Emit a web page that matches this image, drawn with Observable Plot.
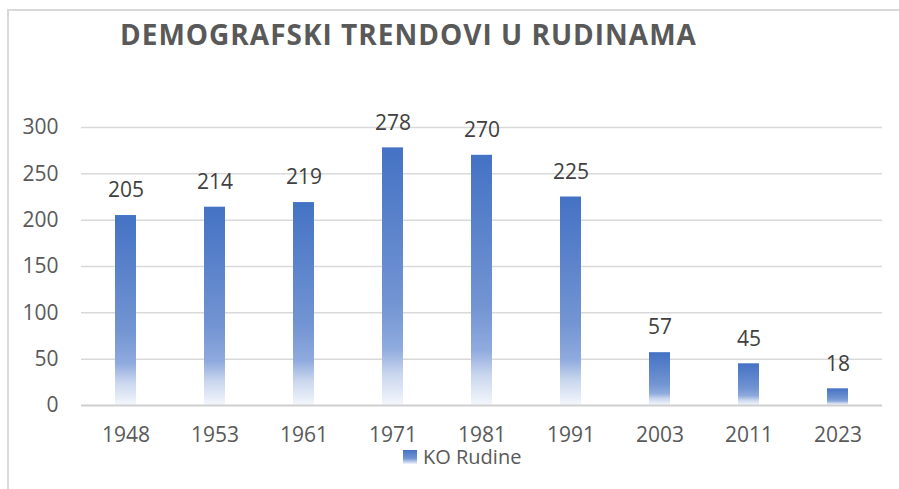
<!DOCTYPE html>
<html>
<head>
<meta charset="utf-8">
<script src="https://cdn.jsdelivr.net/npm/d3@7"></script>
<script src="https://cdn.jsdelivr.net/npm/@observablehq/plot@0.6"></script>
<style>
  html, body { margin: 0; padding: 0; background: #fff; }
  #wrap { position: relative; width: 899px; height: 489px; overflow: hidden; font-family: "Open Sans", sans-serif; }
  #frame { position: absolute; left: 7px; top: 9px; width: 1000px; height: 1000px; border-left: 2px solid #d9d9d9; border-top: 2px solid #d9d9d9; }
  #chart { position: absolute; left: 0; top: 0; }
  #title { position: absolute; left: 120px; top: 20px; font-size: 28px; line-height: 28px; font-weight: 700; color: #595959; letter-spacing: 1px; white-space: nowrap; }
  #legend { position: absolute; left: 403px; top: 450px; font-size: 20px; line-height: 14px; height: 14px; color: #595959; white-space: nowrap; display: flex; align-items: center; }
  #legend .sw { width: 14px; height: 14px; background: linear-gradient(#4472C4, #7294d2 60%, #c9d6ee 88%, #f4f7fc); margin-right: 6px; }
</style>
</head>
<body>
<div id="wrap">
  <div id="frame"></div>
  <div id="chart"></div>
  <div id="title">DEMOGRAFSKI TRENDOVI U RUDINAMA</div>
  <div id="legend"><div class="sw"></div><span>KO Rudine</span></div>
</div>
<script>
const years = ["1948", "1953", "1961", "1971", "1981", "1991", "2003", "2011", "2023"];
const population = [205, 214, 219, 278, 270, 225, 57, 45, 18];
const yTicks = [0, 50, 100, 150, 200, 250, 300];

const data = years.map((y, i) => ({year: y, value: population[i]}));

const plot = Plot.plot({
  width: 899,
  height: 489,
  marginLeft: 81,
  marginRight: 17,
  marginTop: 127,
  marginBottom: 84,
  style: {fontFamily: "Open Sans", fontSize: "21px", color: "#595959", background: "transparent", overflow: "visible"},
  x: {type: "band", domain: years, paddingInner: 0.764, paddingOuter: 0.382, label: null},
  y: {domain: [0, 300], label: null},
  marks: [
    Plot.ruleY(yTicks.filter(d => d > 0), {stroke: "#d9d9d9", strokeWidth: 1.5}),
    Plot.barY(data, {x: "year", y: "value", fill: "url(#barGrad)"}),
    Plot.ruleY([0], {stroke: "#cfcfcf", strokeWidth: 2}),
    Plot.axisY({ticks: yTicks, tickSize: 0, tickPadding: 23, label: null, fill: "#595959"}),
    Plot.axisX({tickSize: 0, tickPadding: 22, label: null, fill: "#595959"}),
    Plot.text(data, {x: "year", y: "value", text: d => String(d.value), dy: -25, fill: "#404040", fontSize: 21})
  ]
});

const svg = d3.select(plot);
const grad = svg.insert("defs", ":first-child").append("linearGradient")
  .attr("id", "barGrad").attr("x1", 0).attr("y1", 0).attr("x2", 0).attr("y2", 1);
[[0, "#4472C4"], [0.6, "#7294d2"], [0.78, "#8faade"], [0.88, "#c9d6ee"], [1, "#f4f7fc"]]
  .forEach(([o, c]) => grad.append("stop").attr("offset", o).attr("stop-color", c));

document.getElementById("chart").appendChild(plot);
</script>
</body>
</html>
